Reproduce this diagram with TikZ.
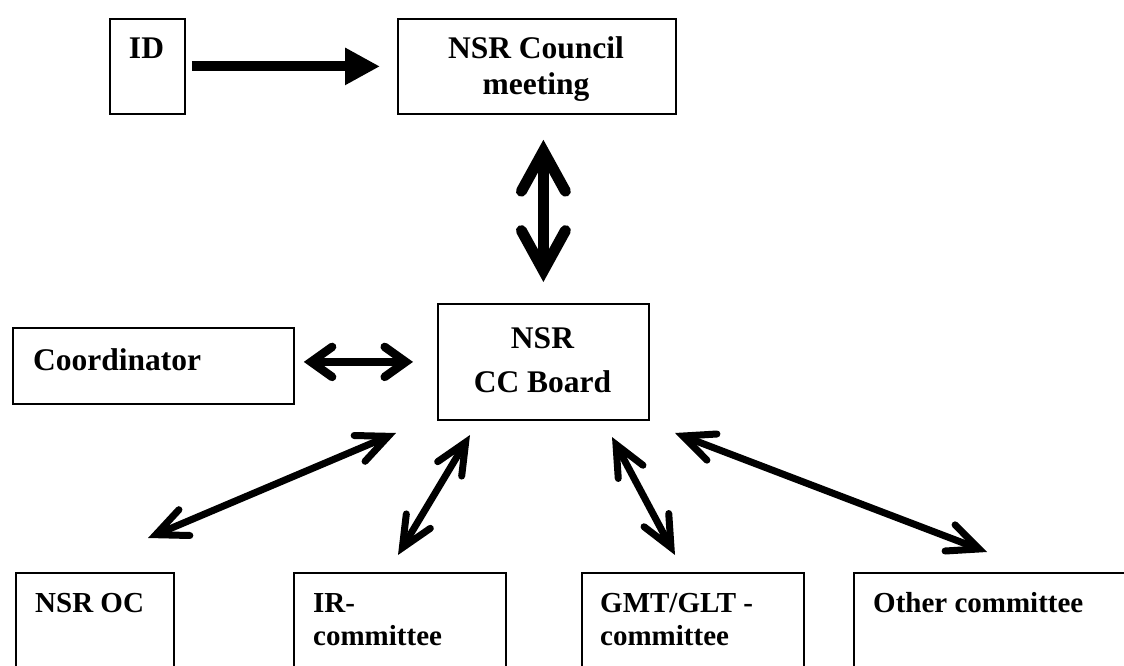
\documentclass[tikz,border=0pt]{standalone}
\usepackage{fontspec}
\setmainfont{Liberation Serif}
\usetikzlibrary{arrows.meta}
\begin{document}
\begin{tikzpicture}[x=1pt,y=-1pt,
  box/.style={draw=black, line width=1.8pt, inner sep=0pt, anchor=north west},
  ttop/.style={inner sep=0pt, font=\bfseries\fontsize{31.5}{#1}\selectfont},
  tbot/.style={inner sep=0pt, anchor=base west, font=\bfseries\fontsize{29}{33}\selectfont},
  bigtri/.style={line width=10pt, -{Triangle[length=35pt,width=35pt]}},
  vbarb/.style={line width=11pt,
    {Straight Barb[length=40pt,width=44pt,line cap=round,line join=miter]}-{Straight Barb[length=40pt,width=44pt,line cap=round,line join=miter]}},
  cbarb/.style={line width=8.5pt,
    {Straight Barb[length=21pt,width=30pt,line cap=round,line join=miter]}-{Straight Barb[length=21pt,width=30pt,line cap=round,line join=miter]}},
  dbarb/.style={line width=7pt,
    {Straight Barb[length=31pt,width=28pt,line cap=round,line join=miter]}-{Straight Barb[length=31pt,width=28pt,line cap=round,line join=miter]}}
]
\useasboundingbox (0,0) rectangle (1124,666);
\fill[white] (0,0) rectangle (1124,666);
\clip (0,0) rectangle (1124,666);

% boxes
\node[box, minimum width=75pt,  minimum height=95pt]  (id)      at (109,18)  {};
\node[box, minimum width=278pt, minimum height=95pt]  (council) at (397,18)  {};
\node[box, minimum width=281pt, minimum height=76pt]  (coord)   at (12,327)  {};
\node[box, minimum width=211pt, minimum height=116pt] (cc)      at (437,303) {};
\node[box, minimum width=158pt, minimum height=110pt] (oc)      at (15,572)  {};
\node[box, minimum width=212pt, minimum height=110pt] (ir)      at (293,572) {};
\node[box, minimum width=222pt, minimum height=110pt] (gmt)     at (581,572) {};
\node[box, minimum width=300pt, minimum height=110pt] (other)   at (853,572) {};

% texts
\node[ttop=36, anchor=base] (idtxt) at (146.5,59) {ID};
\node[ttop=36, anchor=base] (counciltxt) at (536,59)
  {\begin{tabular}[t]{@{}c@{}}NSR Council\\meeting\end{tabular}};
\node[ttop=36, anchor=base west] (coordtxt) at (33,370) {Coordinator};
\node[ttop=44, anchor=base] (cctxt) at (542.5,348)
  {\begin{tabular}[t]{@{}c@{}}NSR\\CC Board\end{tabular}};
\node[tbot] (octxt) at (35,612) {NSR OC};
\node[tbot] (irtxt) at (313,612)
  {\begin{tabular}[t]{@{}l@{}}IR-\\committee\end{tabular}};
\node[tbot] (gmttxt) at (600,612)
  {\begin{tabular}[t]{@{}l@{}}GMT/GLT -\\committee\end{tabular}};
\node[tbot] (othertxt) at (873,612) {Other committee};

% arrow end points
\coordinate (a1t) at (396,433); \coordinate (a1b) at (148,538);
\coordinate (a2t) at (470,435); \coordinate (a2b) at (398,555);
\coordinate (a3t) at (612,437); \coordinate (a3b) at (675,555);
\coordinate (a4t) at (675,433); \coordinate (a4b) at (987,552);

% connectors
\draw[bigtri, shorten <=6pt, shorten >=17pt] (id.east) -- (council.west);
\draw[vbarb, shorten <=25pt, shorten >=21pt] (council.south -| cc.north) -- (cc.north);
\draw[cbarb, shorten <=9pt, shorten >=24pt] (coord.east |- cc.west) -- (cc.west);
\draw[dbarb] (a1t) -- (a1b);
\draw[dbarb] (a2t) -- (a2b);
\draw[dbarb] (a3t) -- (a3b);
\draw[dbarb] (a4t) -- (a4b);
\end{tikzpicture}
\end{document}
